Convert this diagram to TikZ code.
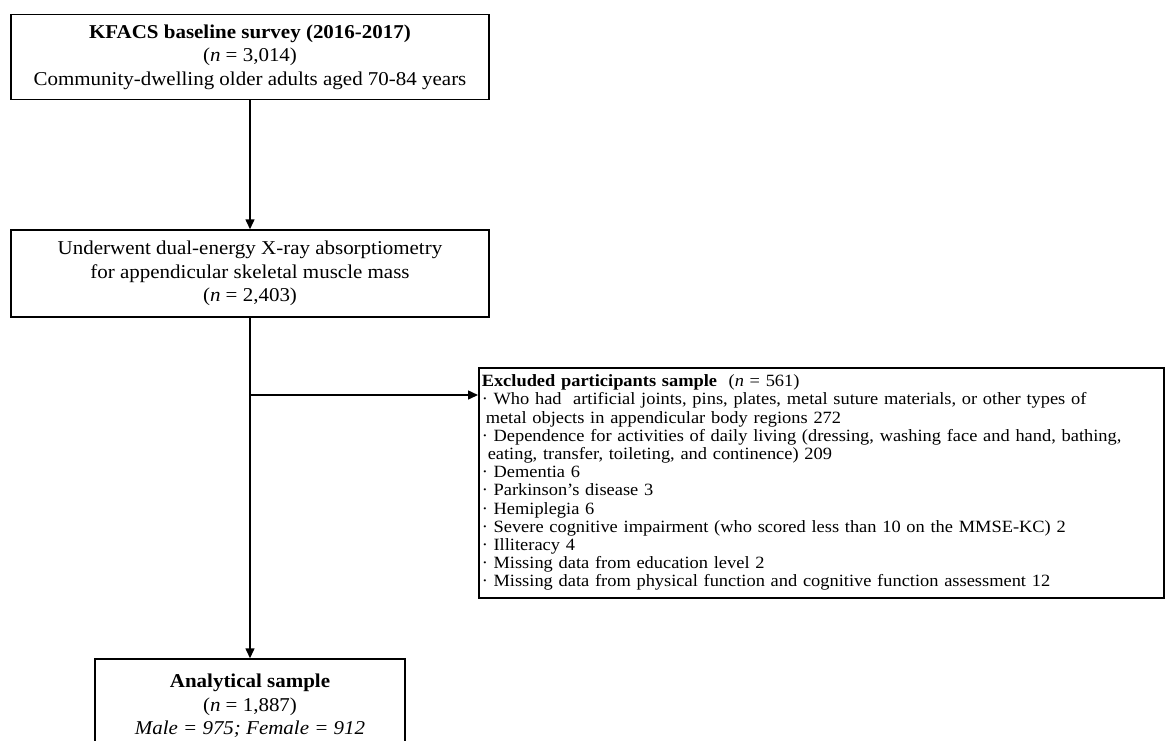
\documentclass[tikz,border=0pt]{standalone}
\usepackage{fontspec}
\setmainfont{Liberation Serif}[FakeStretch=1.07]
\usepackage{tikz}
\usetikzlibrary{positioning, arrows.meta, calc}

\begin{document}
\begin{tikzpicture}[x=1pt, y=-1pt, line width=1.5pt,
		>={Triangle[length=10pt, width=9pt]},
		stage/.style={draw, align=center, inner sep=0pt, font=\fontsize{19.6}{23.5}\selectfont},
		excl/.style={draw, align=left, anchor=north west, inner xsep=3pt, inner ysep=0pt, font=\fontsize{17.2}{18.2}\selectfont}]
	\useasboundingbox (0,0) rectangle (1165,740);
	
	\node[stage, minimum width=478pt, minimum height=85pt] (base) at (250,57)
		{\textbf{KFACS baseline survey (2016-2017)}\\(\textit{n} = 3,014)\\Community-dwelling older adults aged 70-84 years};
	\node[stage, minimum width=478pt, minimum height=87pt] (dxa) at (250,273.5)
		{Underwent dual-energy X-ray absorptiometry\\ for appendicular skeletal muscle mass\\(\textit{n} = 2,403)};
	\node[stage, minimum width=310pt, minimum height=94pt] (anal) at (250,706)
		{\textbf{Analytical sample}\\(\textit{n} = 1,887)\\\textit{Male = 975; Female = 912}};
	\node[excl, text width=679pt, minimum height=230pt] (out) at (478,367)
		{\textbf{Excluded participants sample}\ \ (\textit{n} = 561)\\
		· Who had\ \ artificial joints, pins, plates, metal suture materials, or other types of\\
		\hspace{4pt}metal objects in appendicular body regions 272\\
		· Dependence for activities of daily living (dressing, washing face and hand, bathing,\\
		\hspace{6pt}eating, transfer, toileting, and continence) 209\\
		· Dementia 6\\
		· Parkinson’s disease 3\\
		· Hemiplegia 6\\
		· Severe cognitive impairment (who scored less than 10 on the MMSE-KC) 2\\
		· Illiteracy 4\\
		· Missing data from education level 2\\
		· Missing data from physical function and cognitive function assessment 12};
	
	\coordinate (split) at (250,395);
	\path[->]
	(base) edge (dxa)
	(dxa) edge (anal)
	(split) edge (split -| out.west);
\end{tikzpicture}
\end{document}
